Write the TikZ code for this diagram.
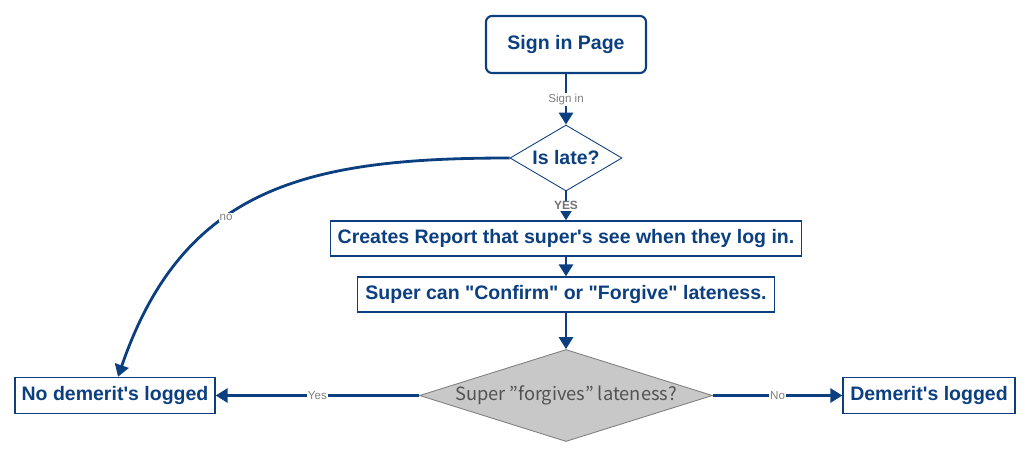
\documentclass[tikz,border=0pt]{standalone}
\usepackage{fontspec}
\setmainfont{Liberation Sans}[Ligatures=TeXOff]
\newfontfamily\jpfont{Noto Sans CJK JP}
\usetikzlibrary{shapes.geometric,arrows.meta,positioning}
\definecolor{flowblue}{HTML}{0B3F80}
\definecolor{labelgrey}{HTML}{808080}
\definecolor{decisiongrey}{HTML}{C8C8C8}
\tikzset{startbox/.style={shape=rectangle, rounded corners=0.12cm, draw=flowblue, line width=1.2pt, text=flowblue, font=\fontsize{11.1}{13}\selectfont\bfseries}}
\tikzset{stepbox/.style={shape=rectangle, draw=flowblue, line width=0.8pt, text=flowblue, inner sep=0pt, font=\fontsize{11.1}{13}\selectfont\bfseries}}
\tikzset{decision/.style={shape=diamond, aspect=1.7, draw=flowblue, line width=0.5pt, text=flowblue, inner sep=0pt, font=\fontsize{11.1}{13}\selectfont\bfseries}}
\tikzset{greydecision/.style={shape=diamond, aspect=3.18, draw=labelgrey, fill=decisiongrey, line width=0.5pt, text=black!68, inner sep=0pt, font=\jpfont\fontsize{10.4}{12}\selectfont}}
\tikzset{linelabel/.style={fill=white, inner sep=0.5pt, text=labelgrey, font=\fontsize{6.6}{8}\selectfont}}
\tikzset{every edge/.style={draw=flowblue, line width=1.6pt, -{Triangle[length=6.8pt,width=8pt]}}}

\begin{document}
\begin{tikzpicture}[node distance = 2cm]
  \useasboundingbox (0,0) rectangle (20.68,-9.18);
  \node (signin) [startbox, minimum width=3.2cm, minimum height=1.14cm] at (11.32,-0.89) {Sign in Page};
  \node (islate) [decision, node distance = 2.27cm, below of = signin, minimum width=2.24cm, minimum height=1.32cm] {Is late?};
  \node (report) [stepbox, node distance = 1.61cm, below of = islate, minimum width=9.42cm, minimum height=0.7cm] {Creates Report that super's see when they log in.};
  \node (confirm) [stepbox, node distance = 1.12cm, below of = report, minimum width=8.34cm, minimum height=0.7cm] {Super can "Confirm" or "Forgive" lateness.};
  \node (forgive) [greydecision, node distance = 2.02cm, below of = confirm, minimum width=5.86cm, minimum height=1.84cm] {Super ”forgives” lateness?};
  \node (nodemerit) [stepbox, node distance = 9.02cm, left of = forgive, minimum width=4cm, minimum height=0.72cm] {No demerit's logged};
  \node (demerit) [stepbox, node distance = 7.26cm, right of = forgive, minimum width=3.44cm, minimum height=0.72cm] {Demerit's logged};

  \path (signin) edge node[linelabel] {Sign in} (islate);
  \path (islate) edge node[linelabel, text=black!55, font=\fontsize{6.8}{8}\selectfont\bfseries] {YES} (report);
  \path (islate.west) edge[out=180, in=71, looseness=1.15] node[linelabel, pos=0.6] {no} ([xshift=0.06cm]nodemerit.north);

  \path (report) edge (confirm);
  \path (confirm) edge (forgive);

  \path (forgive) edge node[linelabel] {Yes} (nodemerit);
  \path (forgive) edge node[linelabel] {No} (demerit);
\end{tikzpicture}
\end{document}
